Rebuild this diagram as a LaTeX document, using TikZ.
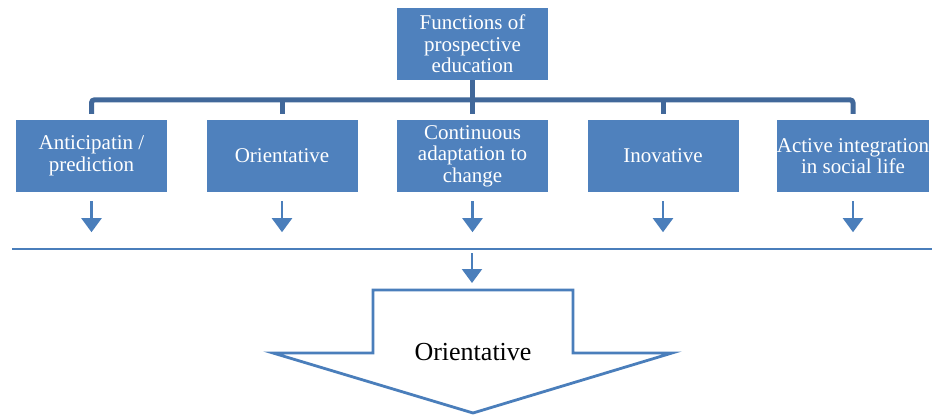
\documentclass[tikz,border=0pt]{standalone}
\usepackage{fontspec}
\setmainfont{Liberation Serif}
\usetikzlibrary{arrows.meta,calc}
\definecolor{boxblue}{HTML}{4F81BD}
\definecolor{darkblue}{HTML}{41689A}
\definecolor{lineblue}{HTML}{4A7EBB}
\begin{document}
\begin{tikzpicture}[x=1pt,y=-1pt,
  fbox/.style={rectangle,fill=boxblue,draw=none,minimum width=151pt,minimum height=72pt,
    inner sep=0pt,text=white,align=center,font=\fontsize{21}{21.5}\selectfont},
  brk/.style={draw=darkblue,line width=5pt},
  down/.style={draw=lineblue,line width=2.2pt,-{Triangle[width=20pt,length=14pt]}},
  thin/.style={draw=lineblue,line width=2pt},
  bigarrow/.style={draw=lineblue,line width=2.8pt,line join=miter}
]
\useasboundingbox (0,0) rectangle (932,416);
\node[fbox] (top) at (472.5,44) {Functions of\\prospective\\education};
\node[fbox] (b1) at (91.5,156) {Anticipatin /\\prediction};
\node[fbox] (b2) at (282,156) {Orientative};
\node[fbox] (b3) at (472.5,156) {Continuous\\adaptation to\\change};
\node[fbox] (b4) at (663,156) {Inovative};
\node[fbox] (b5) at (853,156) {Active integration\\in social life};
% bracket
\draw[brk,rounded corners=3pt] ([yshift=6pt]b1.north) -- ++(0,-14) -| ([yshift=6pt]b5.north);
\draw[brk] ([yshift=6pt]b2.north) -- ++(0,-14);
\draw[brk] ([yshift=6pt]b4.north) -- ++(0,-14);
\draw[brk] (top.south) -- ([yshift=6pt]b3.north);
% arrows below boxes
\foreach \b in {b1,b2,b3,b4,b5}{
  \draw[down] ([yshift=-9pt]\b.south) -- ([yshift=-40pt]\b.south);
}
% horizontal line
\coordinate (L) at (12,249);
\coordinate (R) at (932,249);
\draw[thin] (L) -- (R);
\coordinate (a1) at (472,253);
\coordinate (a2) at (472,283);
\draw[down] (a1) -- (a2);
% big arrow
\draw[bigarrow] (373,290) -- (573,290) -- (573,353) -- (672,353) -- (473,413) -- (273,353) -- (373,353) -- cycle;
\node[font=\fontsize{26}{28}\selectfont] (ori) at (473,352) {Orientative};
\end{tikzpicture}
\end{document}
